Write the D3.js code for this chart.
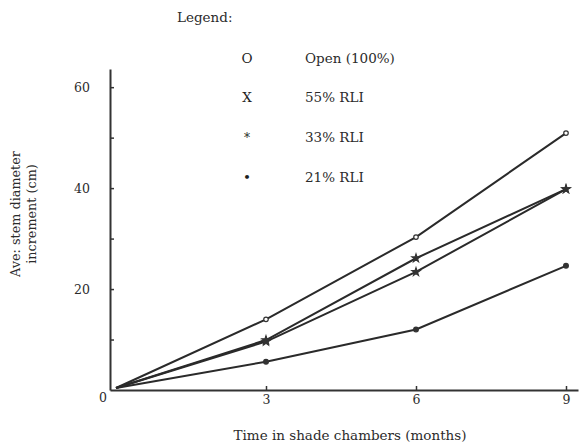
<!DOCTYPE html>
<html lang="en">
<head>
  <meta charset="UTF-8">
  <title>Stem diameter increment</title>
  <script src="https://d3js.org/d3.v7.min.js"></script>
  <style>
    body { margin: 0; background: #fff; }
    text { font-family: "DejaVu Serif", serif; fill: #2b2b2b; }
  </style>
</head>
<body>
  <svg width="580" height="444"></svg>

  <script>
    // months in shade chambers
    const months = [0, 3, 6, 9];

    // series (cm)
    const seriesNames = ["Open (100%)", "55% RLI", "33% RLI", "21% RLI"];
    const legendGlyphs = ["O", "X", "*", "\u2022"];
    const openVals = [0.4, 14.0, 30.3, 50.9];
    const rli55Vals = [0.4, 9.9, 26.1, 39.8];
    const rli33Vals = [0.4, 9.6, 23.4, 39.8];
    const rli21Vals = [0.4, 5.6, 12.0, 24.6];

    const xTicks = [3, 6, 9];
    const yTicks = [10, 20, 30, 40, 50, 60];
    const yLabelled = [20, 40, 60];

    const allSeries = [openVals, rli55Vals, rli33Vals, rli21Vals];
    const markerTypes = [d3.symbolCircle, d3.symbolStar, d3.symbolStar, d3.symbolCircle];

    const svg = d3.select("svg");

    const x = d3.scaleLinear().domain([-0.12, 9.24]).range([110, 578]);
    const y = d3.scaleLinear().domain([0, 63.6]).range([390, 69]);

    // x axis
    const gx = svg.append("g")
      .attr("transform", "translate(0," + y(0) + ")")
      .call(d3.axisBottom(x).tickValues(xTicks).tickSizeInner(-4).tickSizeOuter(0).tickPadding(5));
    gx.select(".domain").attr("stroke", "#333").attr("stroke-width", 2);
    gx.selectAll(".tick line").attr("stroke", "#333").attr("stroke-width", 1.5);
    gx.selectAll("text").style("font-size", "12.5px").attr("font-family", null);

    // y axis
    const gy = svg.append("g")
      .attr("transform", "translate(" + x(-0.12) + ",0)")
      .call(d3.axisLeft(y).tickValues(yTicks).tickSizeInner(-4).tickSizeOuter(0).tickPadding(20)
        .tickFormat(d => yLabelled.includes(d) ? d : ""));
    gy.select(".domain").attr("stroke", "#333").attr("stroke-width", 2);
    gy.selectAll(".tick line").attr("stroke", "#333").attr("stroke-width", 1.5);
    gy.selectAll("text").style("font-size", "12.5px").attr("font-family", null);

    // zero at the origin
    svg.append("text")
      .attr("x", x(-0.12) - 7)
      .attr("y", y(0) + 8)
      .attr("dy", "0.35em")
      .attr("text-anchor", "middle")
      .style("font-size", "12.5px")
      .text("0");

    // lines
    const line = d3.line()
      .x((d, i) => x(months[i]))
      .y(d => y(d));

    svg.selectAll(".series")
      .data(allSeries)
      .enter().append("path")
      .attr("class", "series")
      .attr("d", d => line(d))
      .attr("fill", "none")
      .attr("stroke", "#2a2a2a")
      .attr("stroke-width", 2);

    // point markers
    allSeries.forEach((vals, s) => {
      svg.selectAll(".m" + s)
        .data(vals.slice(1))
        .enter().append("path")
        .attr("class", "m" + s)
        .attr("transform", (d, i) => "translate(" + x(months[i + 1]) + "," + y(d) + ")")
        .attr("d", d3.symbol().type(markerTypes[s]).size(s === 0 ? 16 : (s === 3 ? 18 : 20)))
        .attr("fill", s === 0 ? "#fff" : "#333")
        .attr("stroke", "#333")
        .attr("stroke-width", 1.2);
    });

    // legend
    svg.append("text")
      .attr("x", 177)
      .attr("y", 17)
      .attr("dy", "0.35em")
      .style("font-size", "13.5px")
      .text("Legend:");

    const rowY = d3.scalePoint().domain(seriesNames).range([58, 177]);

    svg.selectAll(".lg-glyph")
      .data(seriesNames)
      .enter().append("text")
      .attr("class", "lg-glyph")
      .attr("x", 247)
      .attr("y", d => rowY(d))
      .attr("dy", "0.35em")
      .attr("text-anchor", "middle")
      .style("font-size", (d, i) => i === 2 ? "12px" : "13.5px")
      .style("fill", "#1e1e1e")
      .text((d, i) => legendGlyphs[i]);

    svg.selectAll(".lg-label")
      .data(seriesNames)
      .enter().append("text")
      .attr("class", "lg-label")
      .attr("x", 305)
      .attr("y", d => rowY(d))
      .attr("dy", "0.35em")
      .style("font-size", "13.5px")
      .text(d => d);

    // axis titles
    svg.append("text")
      .attr("x", 350)
      .attr("y", 435)
      .attr("dy", "0.35em")
      .attr("text-anchor", "middle")
      .style("font-size", "13.5px")
      .text("Time in shade chambers (months)");

    const yTitle = svg.append("text")
      .attr("transform", "translate(16,214) rotate(-90)")
      .attr("text-anchor", "middle")
      .style("font-size", "12.8px");
    yTitle.append("tspan").attr("x", 0).attr("dy", "0.35em").text("Ave: stem diameter");
    yTitle.append("tspan").attr("x", 0).attr("dy", "1.25em").text("increment (cm)");
  </script>
</body>
</html>
